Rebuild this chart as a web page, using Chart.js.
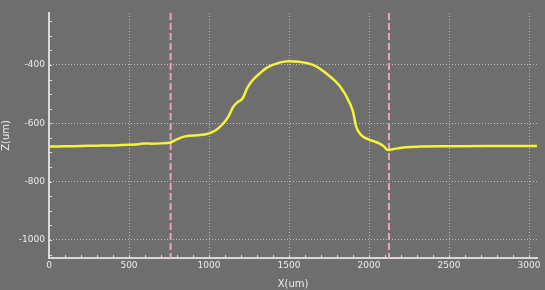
<!DOCTYPE html>
<html>
<head>
<meta charset="utf-8">
<script src="https://cdn.jsdelivr.net/npm/chart.js@4.4.1/dist/chart.umd.min.js"></script>
<style>
  html, body { margin: 0; padding: 0; background: #6e6e6e; }
  #wrap { width: 545px; height: 290px; }
</style>
</head>
<body>
<div id="wrap"><canvas id="profile"></canvas></div>
<script>
  // profile, x in um, z in um
  var xValues = [0, 100, 200, 300, 400, 500, 560, 600, 640, 700, 760, 800, 850, 900, 980, 1040, 1080, 1120, 1150, 1180, 1210, 1240, 1275, 1320, 1360, 1440, 1500, 1560, 1650, 1730, 1820, 1880, 1900, 1920, 1950, 2000, 2060, 2090, 2120, 2150, 2230, 2320, 2500, 2750, 3050];
  var zValues = [-680, -679, -678, -677, -676, -674, -672, -669, -670, -669, -666, -655, -645, -642, -638, -625, -606, -578, -545, -527, -515, -478, -451, -428, -410, -392, -387, -389, -400, -428, -474, -531, -560, -612, -640, -656, -668, -678, -692, -689, -682, -680, -679, -678, -678];
  var markerX = [760, 2125];
  var xMajorTicks = [0, 500, 1000, 1500, 2000, 2500, 3000];
  var zMajorTicks = [-1000, -800, -600, -400];

  var points = xValues.map(function (x, i) { return { x: x, y: zValues[i] }; });

  var isMajor = function (list, v) { return list.indexOf(v) !== -1; };

  var stepTicks = function (from, to, step) {
    var out = [];
    for (var v = from; v <= to; v += step) out.push({ value: v });
    return out;
  };

  // dashed markers and inward minor ticks
  var overlay = {
    id: 'overlay',
    beforeDatasetsDraw: function (chart) {
      var ctx = chart.ctx, area = chart.chartArea;
      var xs = chart.scales.x, ys = chart.scales.y;
      ctx.save();
      ctx.strokeStyle = '#dcdcdc';
      ctx.lineWidth = 1;
      xs.ticks.forEach(function (t) {
        var px = Math.round(xs.getPixelForValue(t.value)) + 0.5;
        ctx.beginPath();
        ctx.moveTo(px, area.bottom);
        ctx.lineTo(px, area.bottom - 3);
        ctx.stroke();
      });
      ys.ticks.forEach(function (t) {
        var py = Math.round(ys.getPixelForValue(t.value)) + 0.5;
        ctx.beginPath();
        ctx.moveTo(area.left, py);
        ctx.lineTo(area.left + 3, py);
        ctx.stroke();
      });
      ctx.strokeStyle = '#e8a6ae';
      ctx.lineWidth = 2;
      ctx.setLineDash([7, 3]);
      markerX.forEach(function (mx) {
        var px = xs.getPixelForValue(mx);
        ctx.beginPath();
        ctx.moveTo(px, area.top);
        ctx.lineTo(px, area.bottom);
        ctx.stroke();
      });
      ctx.restore();
    }
  };

  new Chart(document.getElementById('profile'), {
    type: 'scatter',
    data: {
      datasets: [{
        data: points,
        showLine: true,
        borderColor: '#f4f43a',
        borderWidth: 2.5,
        pointRadius: 0,
        cubicInterpolationMode: 'monotone',
        fill: false
      }]
    },
    options: {
      responsive: true,
      maintainAspectRatio: false,
      animation: false,
      layout: { padding: { top: 13, right: 8, left: 0, bottom: 0 } },
      plugins: { legend: { display: false }, tooltip: { enabled: false } },
      scales: {
        x: {
          type: 'linear',
          min: 0,
          max: 3050,
          afterBuildTicks: function (s) { s.ticks = stepTicks(0, 3000, 100); },
          afterFit: function (s) { s.height = 32; },
          ticks: {
            autoSkip: false,
            maxRotation: 0,
            padding: 2,
            color: '#ececec',
            font: { family: 'DejaVu Sans', size: 9 },
            callback: function (v) { return isMajor(xMajorTicks, v) ? String(v) : ''; }
          },
          grid: {
            drawTicks: false,
            color: function (c) { return c.tick && isMajor(xMajorTicks, c.tick.value) && c.tick.value !== 0 ? '#bdbdbd' : 'rgba(0,0,0,0)'; },
            lineWidth: 1
          },
          border: { display: true, color: '#d8d8d8', width: 2, dash: [1, 2] },
          title: {
            display: true,
            text: 'X(um)',
            color: '#ececec',
            font: { family: 'DejaVu Sans', size: 10 },
            padding: { top: 0, bottom: 0 }
          }
        },
        y: {
          type: 'linear',
          min: -1062,
          max: -222,
          afterBuildTicks: function (s) { s.ticks = stepTicks(-1050, -250, 50); },
          afterFit: function (s) { s.width = 49; },
          ticks: {
            autoSkip: false,
            padding: 4,
            color: '#ececec',
            font: { family: 'DejaVu Sans', size: 9 },
            callback: function (v) { return isMajor(zMajorTicks, v) ? String(v) : ''; }
          },
          grid: {
            drawTicks: false,
            color: function (c) { return c.tick && isMajor(zMajorTicks, c.tick.value) ? '#bdbdbd' : 'rgba(0,0,0,0)'; },
            lineWidth: 1
          },
          border: { display: true, color: '#d8d8d8', width: 2, dash: [1, 2] },
          title: {
            display: true,
            text: 'Z(um)',
            color: '#ececec',
            font: { family: 'DejaVu Sans', size: 10 },
            padding: { top: 0, bottom: 4 }
          }
        }
      }
    },
    plugins: [overlay]
  });
</script>
</body>
</html>
